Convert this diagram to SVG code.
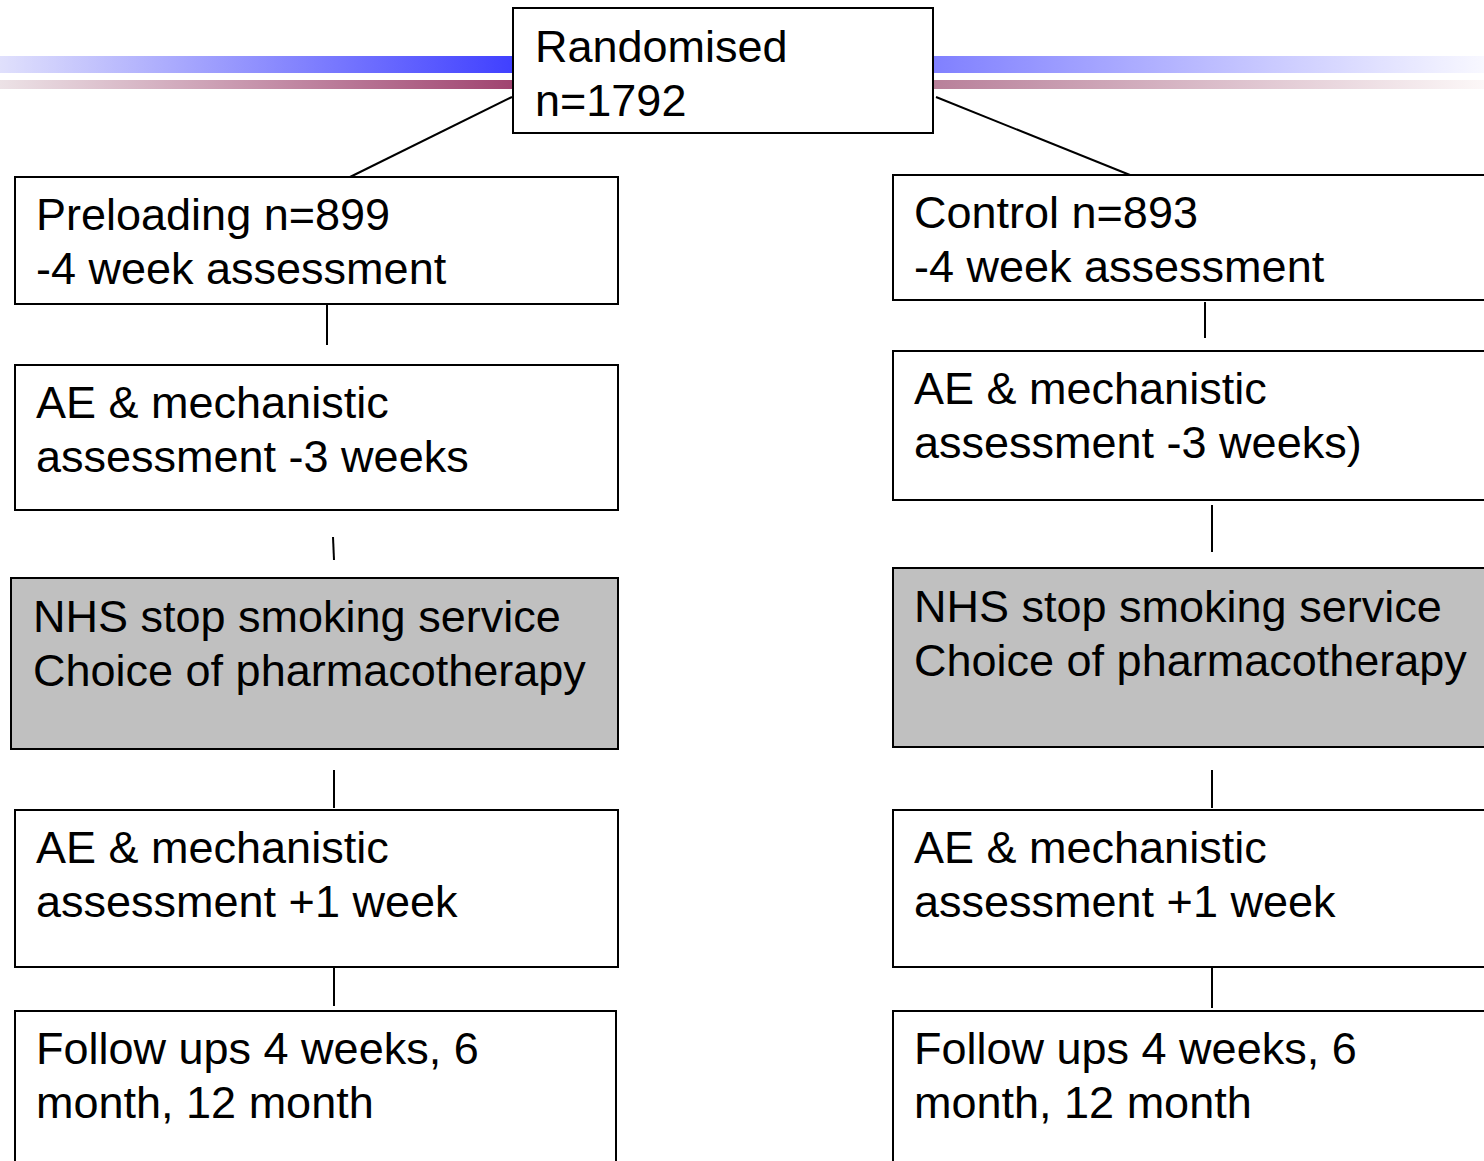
<svg xmlns="http://www.w3.org/2000/svg" width="1484" height="1161" viewBox="0 0 1484 1161">
<style>
.box{fill:#fff;stroke:#000;stroke-width:2}
.grey{fill:#c0c0c0;stroke:#000;stroke-width:2}
.t{font-family:"Liberation Sans",Arial,sans-serif;font-size:45px;fill:#000}
.c line{stroke:#000;stroke-width:2}
</style>
<defs>
<linearGradient id="bl" gradientUnits="userSpaceOnUse" x1="0" y1="0" x2="513" y2="0"><stop offset="0" stop-color="#e0e0fc"/><stop offset="1" stop-color="#4040ff"/></linearGradient>
<linearGradient id="br" gradientUnits="userSpaceOnUse" x1="933" y1="0" x2="1484" y2="0"><stop offset="0" stop-color="#8080ff"/><stop offset="1" stop-color="#f8f8ff"/></linearGradient>
<linearGradient id="pl" gradientUnits="userSpaceOnUse" x1="0" y1="0" x2="513" y2="0"><stop offset="0" stop-color="#ece2e6"/><stop offset="1" stop-color="#a04470"/></linearGradient>
<linearGradient id="pr" gradientUnits="userSpaceOnUse" x1="933" y1="0" x2="1484" y2="0"><stop offset="0" stop-color="#b8809a"/><stop offset="1" stop-color="#fcf8f8"/></linearGradient>
</defs>
<rect width="1484" height="1161" fill="#fff"/>
<g id="bars">
<rect x="0" y="56" width="513" height="17" fill="url(#bl)"/>
<rect x="933" y="56" width="551" height="17" fill="url(#br)"/>
<rect x="0" y="80" width="513" height="9" fill="url(#pl)"/>
<rect x="933" y="80" width="551" height="9" fill="url(#pr)"/>
</g>
<g class="c" id="connectors">
<line x1="512" y1="97" x2="350" y2="177"/>
<line x1="936" y1="97" x2="1130" y2="175"/>
<line x1="327" y1="305" x2="327" y2="345"/>
<line x1="333" y1="537" x2="334" y2="560"/>
<line x1="334" y1="770" x2="334" y2="808"/>
<line x1="334" y1="968" x2="334" y2="1006"/>
<line x1="1205" y1="302" x2="1205" y2="338"/>
<line x1="1212" y1="505" x2="1212" y2="552"/>
<line x1="1212" y1="770" x2="1212" y2="808"/>
<line x1="1212" y1="968" x2="1212" y2="1008"/>
</g>
<g id="randomised"><rect class="box" x="513" y="8" width="420" height="125"/><text class="t" x="535" y="62">Randomised</text><text class="t" x="535" y="116">n=1792</text></g>
<g id="preloading"><rect class="box" x="15" y="177" width="603" height="127"/><text class="t" x="36" y="230">Preloading n=899</text><text class="t" x="36" y="284">-4 week assessment</text></g>
<g id="ae-left"><rect class="box" x="15" y="365" width="603" height="145"/><text class="t" x="36" y="418">AE &amp; mechanistic</text><text class="t" x="36" y="472">assessment -3 weeks</text></g>
<g id="nhs-left"><rect class="grey" x="11" y="578" width="607" height="171"/><text class="t" x="33" y="632">NHS stop smoking service</text><text class="t" x="33" y="686">Choice of pharmacotherapy</text></g>
<g id="ae1-left"><rect class="box" x="15" y="810" width="603" height="157"/><text class="t" x="36" y="863">AE &amp; mechanistic</text><text class="t" x="36" y="917">assessment +1 week</text></g>
<g id="follow-left"><rect class="box" x="15" y="1011" width="601" height="170"/><text class="t" x="36" y="1064">Follow ups 4 weeks, 6</text><text class="t" x="36" y="1118">month, 12 month</text></g>
<g id="control"><rect class="box" x="893" y="175" width="620" height="125"/><text class="t" x="914" y="228">Control n=893</text><text class="t" x="914" y="282">-4 week assessment</text></g>
<g id="ae-right"><rect class="box" x="893" y="351" width="620" height="149"/><text class="t" x="914" y="404">AE &amp; mechanistic</text><text class="t" x="914" y="458">assessment -3 weeks)</text></g>
<g id="nhs-right"><rect class="grey" x="893" y="568" width="620" height="179"/><text class="t" x="914" y="622">NHS stop smoking service</text><text class="t" x="914" y="676">Choice of pharmacotherapy</text></g>
<g id="ae1-right"><rect class="box" x="893" y="810" width="620" height="157"/><text class="t" x="914" y="863">AE &amp; mechanistic</text><text class="t" x="914" y="917">assessment +1 week</text></g>
<g id="follow-right"><rect class="box" x="893" y="1011" width="620" height="170"/><text class="t" x="914" y="1064">Follow ups 4 weeks, 6</text><text class="t" x="914" y="1118">month, 12 month</text></g>
</svg>
